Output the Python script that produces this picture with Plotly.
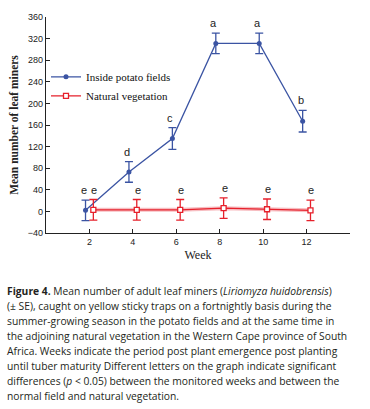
import plotly.graph_objects as go

weeks = [2, 4, 6, 8, 10, 12]
potato_mean = [2, 73, 135, 311, 311, 167]
potato_se = [19, 19, 20, 19, 19, 20]
natural_mean = [3, 3, 3, 6, 4, 2]
natural_se = [19, 19, 19, 19, 19, 19]
potato_letters = ["e", "d", "c", "a", "a", "b"]
natural_letters = ["e", "e", "e", "e", "e", "e"]
x_ticks = [0, 2, 4, 6, 8, 10, 12, 14]
x_ticktext = ["", "2", "4", "6", "8", "10", "12", ""]
y_ticks = [-40, 0, 40, 80, 120, 160, 200, 240, 280, 320, 360]

caption_lines = [
    "<b>Figure 4.</b> Mean number of adult leaf miners (<i>Liriomyza huidobrensis</i>)",
    "(± SE), caught on yellow sticky traps on a fortnightly basis during the",
    "summer-growing season in the potato fields and at the same time in",
    "the adjoining natural vegetation in the Western Cape province of South",
    "Africa. Weeks indicate the period post plant emergence post planting",
    "until tuber maturity Different letters on the graph indicate significant",
    "differences (<i>p</i> &lt; 0.05) between the monitored weeks and between the",
    "normal field and natural vegetation.",
]

blue = "#3b54a3"
red = "#e6202b"
off = 0.18
xb = [w - off for w in weeks]
xr = [w + off for w in weeks]

fig = go.Figure()
fig.add_trace(go.Scatter(
    x=xr, y=natural_mean, mode="lines", line=dict(color="rgba(235,90,100,0.4)", width=4),
    showlegend=False, hoverinfo="skip"))
fig.add_trace(go.Scatter(
    x=xb, y=potato_mean, mode="lines+markers", name="Inside potato fields",
    line=dict(color=blue, width=1.3), marker=dict(color=blue, size=5, symbol="circle"),
    error_y=dict(type="data", array=potato_se, color=blue, thickness=1.3, width=4)))
fig.add_trace(go.Scatter(
    x=xr, y=natural_mean, mode="lines+markers", name="Natural vegetation",
    line=dict(color=red, width=1.2),
    marker=dict(color="white", size=5, symbol="square", line=dict(color=red, width=1.3)),
    error_y=dict(type="data", array=natural_se, color=red, thickness=1.3, width=4)))

letter_font = dict(family="Liberation Sans, Arial", size=11, color="#222")
annotations = []
for x, m, s, t in zip(xb, potato_mean, potato_se, potato_letters):
    annotations.append(dict(x=x, y=m + s, xref="x", yref="y", text=t, showarrow=False,
                            yanchor="bottom", yshift=2, xshift=-2, font=letter_font))
for x, m, s, t in zip(xr, natural_mean, natural_se, natural_letters):
    annotations.append(dict(x=x, y=m + s, xref="x", yref="y", text=t, showarrow=False,
                            yanchor="bottom", yshift=2, xshift=1, font=letter_font))

plot_top, plot_bottom = 17, 233
ph = plot_bottom - plot_top
for i, line in enumerate(caption_lines):
    py = 291 + i * 15
    annotations.append(dict(x=-41 / 304, y=(plot_bottom - py) / ph, xref="paper", yref="paper",
                            text=line, showarrow=False, xanchor="left", yanchor="middle",
                            font=dict(family="Open Sans", size=10.3, color="#231f20")))

fig.update_layout(
    width=370, height=409,
    margin=dict(l=46, r=20, t=plot_top, b=409 - plot_bottom, autoexpand=False),
    paper_bgcolor="white", plot_bgcolor="white",
    showlegend=True,
    legend=dict(x=0.0, y=0.79, xanchor="left", yanchor="top",
                font=dict(family="Liberation Serif, Times New Roman", size=11, color="#111"),
                bgcolor="rgba(0,0,0,0)", tracegroupgap=0, itemwidth=30),
    annotations=annotations,
)
fig.update_xaxes(range=[0, 14], tickvals=x_ticks, ticktext=x_ticktext, automargin=False,
                 showline=True, linecolor="#222", linewidth=1.2,
                 ticks="inside", ticklen=4, tickcolor="#222", showgrid=False, zeroline=False,
                 tickfont=dict(family="Liberation Sans, Arial", size=9, color="#222"),
                 title=dict(text="Week", standoff=4,
                            font=dict(family="Liberation Serif, Times New Roman", size=12, color="#222")))
fig.update_yaxes(range=[-40, 360], tickvals=y_ticks, automargin=False,
                 showline=True, linecolor="#222", linewidth=1.2,
                 ticks="inside", ticklen=4, tickcolor="#222", showgrid=False, zeroline=False,
                 tickfont=dict(family="Liberation Sans, Arial", size=9, color="#222"),
                 title=dict(text="<b>Mean number of leaf miners</b>", standoff=6,
                            font=dict(family="Liberation Serif, Times New Roman", size=11.5, color="#222")))

fig.write_html("out.html", config={"displayModeBar": False},
               post_script="document.body.style.margin='0';")
